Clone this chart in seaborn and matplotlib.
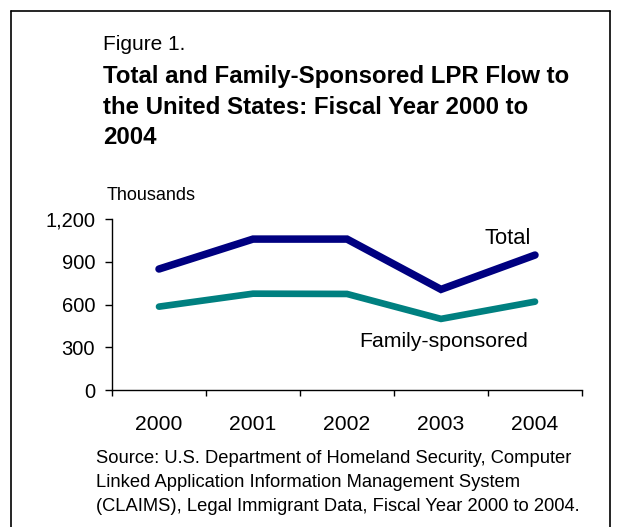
import matplotlib
matplotlib.use("Agg")
import matplotlib.pyplot as plt
import seaborn as sns
import pandas as pd
from matplotlib.lines import Line2D

years = ["2000", "2001", "2002", "2003", "2004"]
total = [849, 1059, 1059, 706, 947]
family = [585, 676, 674, 499, 620]
yticks = [0, 300, 600, 900, 1200]
ytick_labels = ["0", "300", "600", "900", "1,200"]

df = pd.DataFrame({
    "year": years * 2,
    "value": total + family,
    "series": ["Total"] * 5 + ["Family-sponsored"] * 5,
})

sns.set_theme(style="white")
plt.rcParams["font.family"] = ["Liberation Sans", "DejaVu Sans"]
plt.rcParams["text.color"] = "black"
plt.rcParams["xtick.color"] = "black"
plt.rcParams["ytick.color"] = "black"
plt.rcParams["axes.labelcolor"] = "black"

W, H = 618, 527
fig = plt.figure(figsize=(W / 100, H / 100), dpi=100)

def fx(px):
    return px / W

def fy(py):
    return 1 - py / H

ax = fig.add_axes([fx(112), fy(390), fx(582) - fx(112), fy(219) - fy(390)])

sns.lineplot(data=df, x="year", y="value", hue="series",
             palette={"Total": "#000080", "Family-sponsored": "#008080"},
             sort=False, legend=False, ax=ax)
for ln, lw in zip(ax.get_lines(), [5.4, 4.8]):
    ln.set_linewidth(lw)
    ln.set_solid_capstyle("round")
    ln.set_solid_joinstyle("miter")

ax.set_xlim(-0.5, 4.5)
ax.set_ylim(0, 1200)
ax.set_yticks(yticks)
ax.set_yticklabels(ytick_labels, fontsize=14.5)
ax.set_xticks([i - 0.5 for i in range(6)])
ax.set_xticklabels([])
ax.set_xticks(range(5), minor=True)
ax.set_xticklabels(years, minor=True, fontsize=15.2)
ax.tick_params(axis="x", which="major", direction="out", length=4.3, width=1, color="black", bottom=True)
ax.tick_params(axis="x", which="minor", length=0, pad=18)
ax.tick_params(axis="y", direction="out", length=5, width=1, color="black", left=True, pad=7.2)
ax.set_xlabel("")
ax.set_ylabel("")
for s in ["top", "right"]:
    ax.spines[s].set_visible(False)
for s in ["left", "bottom"]:
    ax.spines[s].set_color("black")
    ax.spines[s].set_linewidth(1)
ax.grid(False)

# series labels
fig.text(fx(531), fy(244), "Total", fontsize=15.8, ha="right", va="baseline")
fig.text(fx(528), fy(347), "Family-sponsored", fontsize=15.3, ha="right", va="baseline")

fig.text(fx(107), fy(200), "Thousands", fontsize=13, ha="left", va="baseline")

# title
fig.text(fx(103), fy(50.5), "Figure 1.", fontsize=15, ha="left", va="baseline")
title_lines = ["Total and Family-Sponsored LPR Flow to",
               "the United States: Fiscal Year 2000 to",
               "2004"]
for i, t in enumerate(title_lines):
    fig.text(fx(103), fy(83 + 30.5 * i), t, fontsize=17.3, fontweight="bold",
             ha="left", va="baseline")

source_lines = ["Source: U.S. Department of Homeland Security, Computer",
                "Linked Application Information Management System",
                "(CLAIMS), Legal Immigrant Data, Fiscal Year 2000 to 2004."]
for i, t in enumerate(source_lines):
    fig.text(fx(96), fy(463 + 24 * i), t, fontsize=13.25, ha="left", va="baseline")

# frame
for xs, ys in [([11, 11], [527, 11]), ([11, 610], [11, 11]), ([610, 610], [11, 527])]:
    fig.add_artist(Line2D([fx(x) for x in xs], [fy(y) for y in ys],
                          color="black", linewidth=1.2))

fig.savefig("out.png", dpi=100)
